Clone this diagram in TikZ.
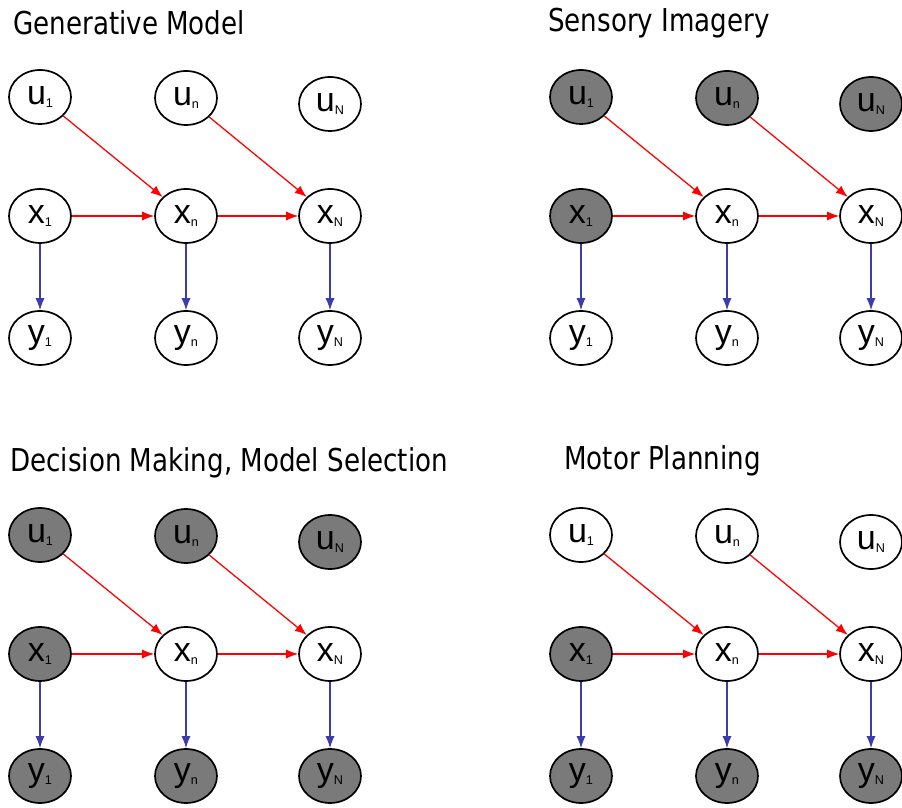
\documentclass[tikz,border=0pt]{standalone}
\usepackage{fontspec}
\usepackage{graphicx}
\setmainfont{Liberation Sans}
\newfontfamily\titlefont{DejaVu Sans}
\usetikzlibrary{shapes,arrows.meta,positioning}
\definecolor{obscolor}{RGB}{122,122,122}
\definecolor{transcolor}{RGB}{255,0,0}
\definecolor{emitcolor}{RGB}{60,60,170}

% letter with a small lowered index
\newcommand{\nodetext}[2]{{\fontsize{24.2}{26}\selectfont #1}\raisebox{-0.07cm}{\fontsize{9}{9}\selectfont #2}}

\tikzset{
  var/.style={ellipse, draw=black, line width=1.2pt, minimum width=1.55cm,
    minimum height=1.35cm, inner sep=0pt},
  trans/.style={-{Latex[length=8.5pt,width=6.5pt]}, transcolor, line width=0.9pt},
  emit/.style={-{Latex[length=8.5pt,width=6.5pt]}, emitcolor, line width=0.9pt},
  paneltitle/.style={anchor=base west, inner sep=0pt,
    font=\titlefont\fontsize{22.4}{26}\selectfont}
}

\begin{document}
\begin{tikzpicture}[scale=1]

\useasboundingbox (0,0) rectangle (22.55,20.175);

% ---- Four copies of the chain, shaded differently ----
\foreach \p/\ox/\oy/\tx/\ty/\title/\fu/\fx/\fy in {
  gen/0/0/0.325/19.3/{Generative Model}/white/white/white,
  sens/13.525/0/0.175/19.375/{Sensory Imagery}/obscolor/obscolor/white,
  dec/0/-10.95/0.25/19.325/{Decision Making, Model Selection}/obscolor/obscolor/obscolor,
  mot/13.525/-10.95/0.575/19.375/{Motor Planning}/white/obscolor/obscolor} {
  \begin{scope}[shift={(\ox,\oy)}]
    \node[paneltitle] (title-\p) at (\tx,\ty) {\scalebox{0.83}[1]{\title}};

    % inputs
    \node[var, fill=\fu] (u1-\p) at (1.0,17.75) {\nodetext{u}{1}};
    \node[var, fill=\fu] (un-\p) at (4.65,17.725) {\nodetext{u}{n}};
    \node[var, fill=\fu] (uN-\p) at (8.25,17.575) {\nodetext{u}{N}};

    % states
    \node[var, fill=\fx] (x1-\p) at (1.0,14.775) {\nodetext{x}{1}};
    \node[var, fill=white] (xn-\p) at (4.65,14.775) {\nodetext{x}{n}};
    \node[var, fill=white] (xN-\p) at (8.25,14.775) {\nodetext{x}{N}};

    % observations
    \node[var, fill=\fy] (y1-\p) at (1.0,11.725) {\nodetext{y}{1}};
    \node[var, fill=\fy] (yn-\p) at (4.65,11.725) {\nodetext{y}{n}};
    \node[var, fill=\fy] (yN-\p) at (8.25,11.725) {\nodetext{y}{N}};

    \draw[trans] (u1-\p) -- (xn-\p);
    \draw[trans] (un-\p) -- (xN-\p);
    \draw[trans] (x1-\p) -- (xn-\p);
    \draw[trans] (xn-\p) -- (xN-\p);

    \draw[emit] (x1-\p) -- (y1-\p);
    \draw[emit] (xn-\p) -- (yn-\p);
    \draw[emit] (xN-\p) -- (yN-\p);
  \end{scope}
}

\end{tikzpicture}
\end{document}
